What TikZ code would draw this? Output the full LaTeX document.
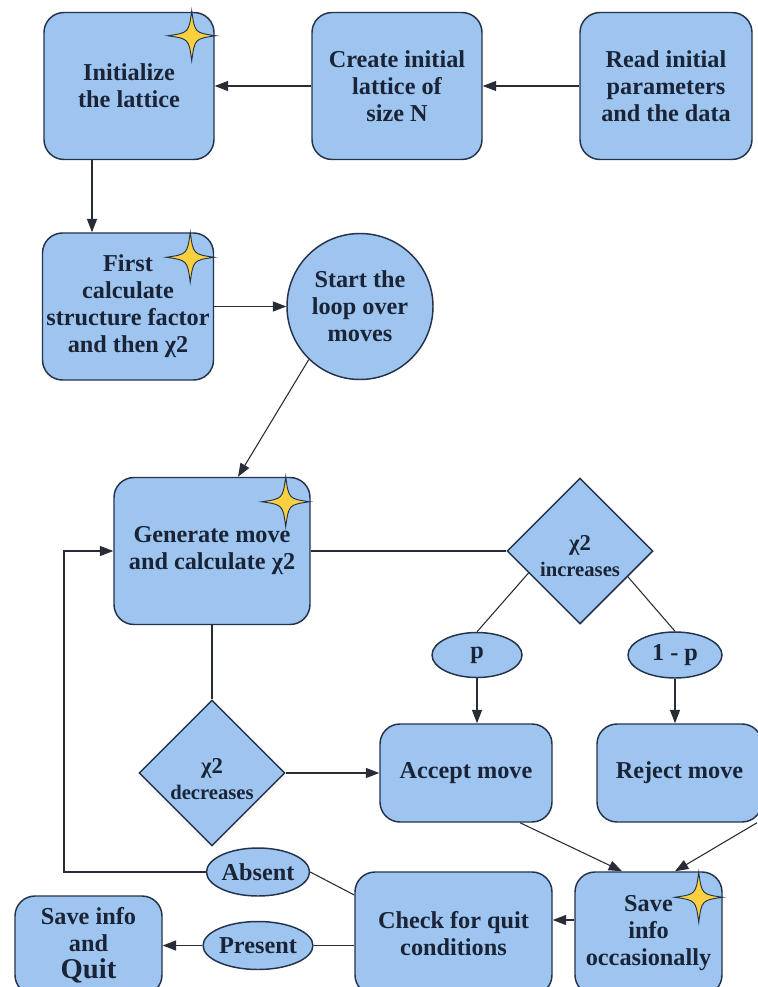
\documentclass[tikz,border=0pt]{standalone}
\usepackage{fontspec}
\setmainfont{Liberation Serif}
\usetikzlibrary{arrows.meta,shapes.geometric,calc}
\definecolor{boxfill}{RGB}{158,197,240}
\definecolor{boxline}{RGB}{36,50,74}
\definecolor{ink}{RGB}{26,36,54}
\definecolor{wire}{RGB}{40,44,54}
\definecolor{starfill}{RGB}{250,208,62}
\newcommand\pxu{0.75pt}
% four-pointed sparkle centred at the given coordinate
\newcommand\sparkle[1]{%
  \draw[fill=starfill,draw=boxline,line width=0.7pt,shift={#1}]
    (0,-25) .. controls (3,-3) .. (24,0)
    .. controls (3,3) .. (0,25)
    .. controls (-3,3) .. (-24,0)
    .. controls (-3,-3) .. (0,-25) -- cycle;}
\tikzset{
  txt/.style={text=ink,font=\rmfamily\bfseries\fontsize{18.2}{20.3}\selectfont,align=center,inner sep=0pt},
  smalltxt/.style={txt,font=\rmfamily\bfseries\fontsize{15.5}{19}\selectfont},
  shaped/.style={txt,draw=boxline,fill=boxfill,line width=1.1pt},
  card/.style 2 args={shaped,rectangle,rounded corners=15pt,minimum width=#1*\pxu,minimum height=#2*\pxu},
  disc/.style={shaped,circle,minimum size=146*\pxu},
  rhomb/.style={shaped,diamond,minimum width=146*\pxu,minimum height=146*\pxu},
  oval/.style 2 args={shaped,ellipse,minimum width=#1*\pxu,minimum height=#2*\pxu},
  link/.style={draw=wire,line width=0.8pt},
  flow/.style={link,-{Triangle[length=10pt,width=7.5pt]}},
}
\begin{document}
\begin{tikzpicture}[x=0.75pt,y=-0.75pt]
\fill[white] (0,0) rectangle (757,987);
\useasboundingbox (0,0) rectangle (757,987);

% top row
\node[card={170}{147}] (init)   at (129,86)  {Initialize\\the lattice};
\node[card={170}{147}] (create) at (397,86)  {Create initial\\lattice of\\size N};
\node[card={172}{147}] (read)   at (666,86)  {Read initial\\parameters\\and the data};

% set-up
\node[card={171}{147}] (first) at (128,306.5) {First\\calculate\\structure factor\\and then χ2};
\node[disc] (loop) at (360,306.5) {Start the\\loop over\\moves};

% move loop
\node[card={196}{147}] (gen) at (212,551) {Generate move\\and calculate χ2};
\node[rhomb] (inc) at (580,551) {};
\node[smalltxt] (inc-text) at ([yshift=-5*\pxu]inc.center) {{\fontsize{17}{19}\selectfont χ2}\\increases};
\node[oval={90}{45}] (p)   at (477,655) {p};
\node[oval={94}{46}] (omp) at (675,655) {1 - p};
\node[card={172}{98}] (accept) at (466,773)   {Accept move};
\node[card={165}{98}] (reject) at (679.5,773) {Reject move};
\node[rhomb] (dec) at (212,773) {};
\node[smalltxt] (dec-text) at ([yshift=-6*\pxu]dec.center) {{\fontsize{17}{19}\selectfont χ2}\\decreases};

% bottom row
\node[card={147}{123}] (save)  at (648.5,933.5) {Save\\info\\occasionally};
\node[card={197}{123}] (check) at (453.5,933.5) {Check for quit\\conditions};
\node[oval={97}{48}] (absent)  at (258,872) {Absent};
\node[oval={97}{48}] (present) at (258,945.5) {Present};
\node[card={147}{99}] (quit) at (88.5,945.5) {Save info\\and\\{\fontsize{21.5}{24}\selectfont Quit}};

% sparkles
\sparkle{($(init.north east)+(-23,24)$)}
\sparkle{($(first.north east)+(-24,25)$)}
\sparkle{($(gen.north east)+(-25,25)$)}
\sparkle{($(save.north east)+(-24,26)$)}

% connectors
\draw[flow] (read.west) -- (create.east);
\draw[flow] (create.west) -- (init.east);
\draw[flow] ([xshift=-37*\pxu]init.south) -- ([xshift=-36*\pxu]first.north);
\draw[flow] (first.east) -- (loop.west);
\draw[flow] (loop.226) -- ([xshift=26*\pxu]gen.north);
\draw[link] (gen.east) -- (inc.west);
\draw[link] ($(inc.west)!0.3!(inc.south)$) -- (p.north);
\draw[link] ($(inc.east)!0.35!(inc.south)$) -- (omp.north);
\draw[flow] (p.south) -- (p.south |- accept.north);
\draw[flow] (omp.south) -- (omp.south |- reject.north);
\draw[link] (gen.south) -- (dec.north);
\draw[flow] (dec.east) -- (dec.east -| accept.west);
\draw[flow] ([xshift=54*\pxu]accept.south) -- ([xshift=-26.5*\pxu]save.north);
\draw[flow] ([xshift=77.5*\pxu]reject.south) -- ([xshift=26.5*\pxu]save.north);
\draw[flow] ([yshift=13.5*\pxu]save.west) -- ([yshift=13.5*\pxu]check.east);
\draw[link] ([yshift=38.5*\pxu]check.west) -- (absent.east);
\coordinate (back) at (64,0);
\draw[flow] (absent.west) -- (absent.west -| back) |- (gen.west);
\draw[link] (check.west |- present.east) -- (present.east);
\draw[flow] (present.west) -- (present.west -| quit.east);
\end{tikzpicture}
\end{document}
